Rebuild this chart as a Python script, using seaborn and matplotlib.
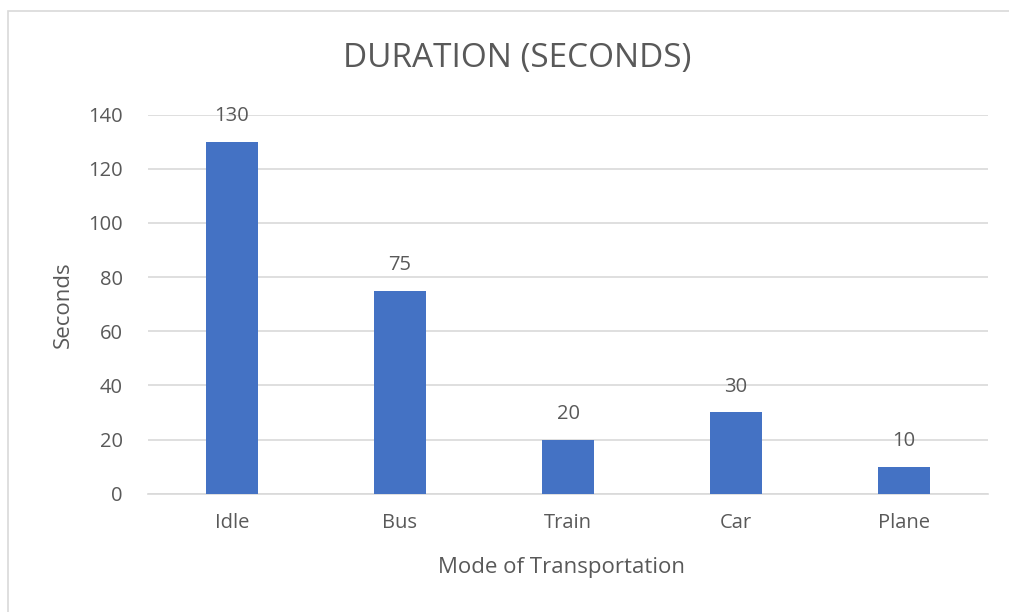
import matplotlib
matplotlib.use("Agg")
import matplotlib.pyplot as plt
import seaborn as sns
import pandas as pd
from matplotlib.patches import Rectangle

categories = ["Idle", "Bus", "Train", "Car", "Plane"]
seconds = [130, 75, 20, 30, 10]
yticks = [0, 20, 40, 60, 80, 100, 120, 140]

sns.set_theme(style="white")
plt.rcParams['font.family'] = ['Open Sans', 'DejaVu Sans']

W, H = 1009, 612
fig = plt.figure(figsize=(W / 100, H / 100), dpi=100)
ax = fig.add_axes([148 / W, 1 - 493.7 / H, 840 / W, (493.7 - 114.7) / H])

df = pd.DataFrame({"Mode": categories, "Seconds": seconds})
sns.barplot(data=df, x="Mode", y="Seconds", color="#4472C4", saturation=1,
            width=0.313, linewidth=0, ax=ax, zorder=3)

txt = "#595959"
grid = "#D9D9D9"
ax.set_ylim(0, 140)
ax.set_xlim(-0.5, len(categories) - 0.5)
ax.set_yticks(yticks)
ax.yaxis.grid(True, color=grid, linewidth=1.2, zorder=0)
ax.set_axisbelow(True)
for s in ["top", "right", "left"]:
    ax.spines[s].set_visible(False)
ax.spines["bottom"].set_color(grid)
ax.spines["bottom"].set_linewidth(1.2)
ax.tick_params(axis="both", length=0, labelsize=14.5, labelcolor=txt)
ax.tick_params(axis="y", pad=18)
ax.tick_params(axis="x", pad=14)

for c in ax.containers:
    ax.bar_label(c, labels=[str(v) for v in seconds], padding=11,
                 fontsize=14.5, color=txt)

ax.set_xlabel("Mode of Transportation", fontsize=16, color=txt)
ax.set_ylabel("Seconds", fontsize=16, color=txt)
ax.xaxis.set_label_coords((562 - 148) / 840, (493.7 - 568) / 379, transform=ax.transAxes)
ax.xaxis.label.set_va("center")
ax.yaxis.set_label_coords((63 - 148) / 840, (493.7 - 305) / 379, transform=ax.transAxes)
ax.yaxis.label.set_va("center")

fig.text(517 / W, 1 - 58 / H, "DURATION (SECONDS)", ha="center", va="center",
         fontsize=24, color=txt)

fig.patches.append(Rectangle((8 / W, -0.1), 1.1, 1 + 0.1 - 11 / H,
                             transform=fig.transFigure, fill=False,
                             edgecolor=grid, linewidth=1.2))

fig.savefig("out.png", dpi=100, facecolor="white")
